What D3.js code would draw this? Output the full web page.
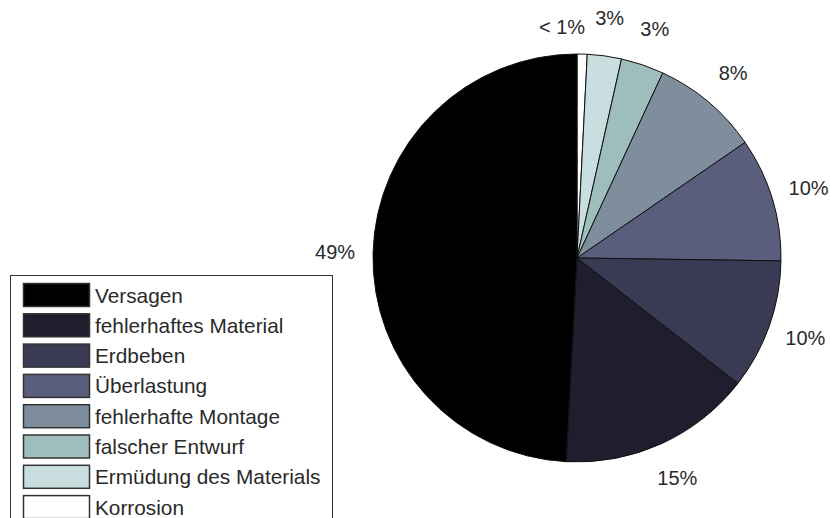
<!DOCTYPE html>
<html>
<head>
<meta charset="utf-8">
<script src="https://cdn.jsdelivr.net/npm/d3@7"></script>
<style>
  body { margin: 0; background: #fff; }
  svg { display: block; font-family: "Liberation Sans", Arial, sans-serif; }
</style>
</head>
<body>
<svg width="830" height="518"></svg>
<script>
  // Schadensursachen, im Uhrzeigersinn ab 12 Uhr
  var causes = ["Korrosion", "Ermüdung des Materials", "falscher Entwurf",
    "fehlerhafte Montage", "Überlastung", "Erdbeben", "fehlerhaftes Material", "Versagen"];
  var shares = [0.8, 2.7, 3.4, 8.5, 9.8, 10.3, 15.3, 49.1];
  var shareLabels = ["< 1%", "3%", "3%", "8%", "10%", "10%", "15%", "49%"];
  var fills = ["#ffffff", "#c9dede", "#9ebebe", "#7e8e9c", "#5a5d7c", "#3b3a55", "#1f1e2e", "#000000"];
  // Legende listet in umgekehrter Reihenfolge
  var legendOrder = causes.slice().reverse();

  var svg = d3.select("svg"),
    cx = 577, cy = 258, radius = 204;

  var color = d3.scaleOrdinal()
      .domain(causes)
      .range(fills);

  var pie = d3.pie()
      .sort(null)
      .value(function(d) { return d.value; });

  var arc = d3.arc()
      .innerRadius(0)
      .outerRadius(radius);

  var labelArc = d3.arc()
      .innerRadius(242)
      .outerRadius(242);

  var data = causes.map(function(c, i) {
    return { name: c, value: shares[i], label: shareLabels[i] };
  });

  var g = svg.append("g")
      .attr("transform", "translate(" + cx + "," + cy + ")");

  g.selectAll("path")
    .data(pie(data))
    .enter().append("path")
      .attr("d", arc)
      .attr("fill", function(d) { return color(d.data.name); })
      .attr("stroke", "#111")
      .attr("stroke-width", 1);

  g.selectAll("text")
    .data(pie(data))
    .enter().append("text")
      .attr("transform", function(d) {
        var p = labelArc.centroid(d);
        // kleinstes Segment: Beschriftung nach links geschoben wie im Original
        if (d.data.value < 1) { p[0] -= 21; p[1] += 11; }
        return "translate(" + p[0] + "," + p[1] + ")";
      })
      .attr("text-anchor", "middle")
      .attr("dy", "0.36em")
      .attr("font-size", 20)
      .attr("fill", "#2a2a2a")
      .text(function(d) { return d.data.label; });

  // Legende
  var legend = svg.append("g")
      .attr("class", "legend");

  legend.append("rect")
      .attr("x", 10.5)
      .attr("y", 275.5)
      .attr("width", 322)
      .attr("height", 260)
      .attr("fill", "#fff")
      .attr("stroke", "#333")
      .attr("stroke-width", 1);

  var y = d3.scalePoint()
      .domain(legendOrder)
      .range([295, 295 + 30.3 * (legendOrder.length - 1)]);

  var row = legend.selectAll("g.row")
    .data(legendOrder)
    .enter().append("g")
      .attr("class", "row")
      .attr("transform", function(d) { return "translate(0," + y(d) + ")"; });

  row.append("rect")
      .attr("x", 23.5)
      .attr("y", -11.5)
      .attr("width", 66)
      .attr("height", 23)
      .attr("fill", function(d) { return color(d); })
      .attr("stroke", "#333")
      .attr("stroke-width", 1.5);

  row.append("text")
      .attr("x", 95)
      .attr("dy", "0.36em")
      .attr("font-size", 20.8)
      .attr("fill", "#2a2a2a")
      .text(function(d) { return d; });
</script>
</body>
</html>
